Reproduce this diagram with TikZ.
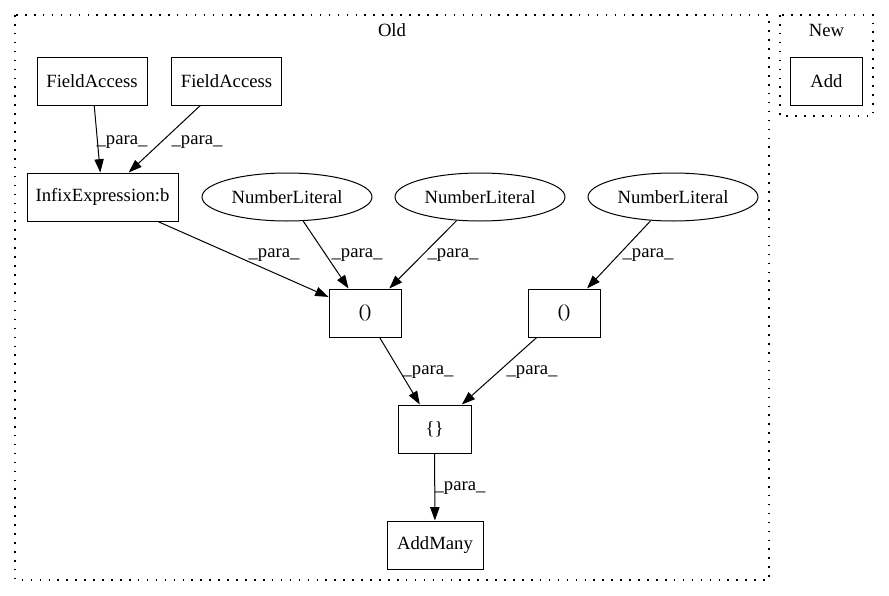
\documentclass[tikz,border=0pt]{standalone}
\usepackage{fontspec}
\setmainfont{Liberation Serif}
\usetikzlibrary{arrows.meta,shapes.geometric}
\begin{document}
\begin{tikzpicture}[x=0.75pt,y=-0.75pt,
  every node/.style={font=\fontsize{14}{16.8}\selectfont, inner sep=0pt},
  box/.style={draw, line width=0.75pt, rectangle, minimum height=36pt},
  oval/.style={draw, line width=0.75pt, ellipse, minimum height=36pt, minimum width=127.5pt},
  cluster/.style={draw, line width=0.9pt, dash pattern=on 1.2pt off 5.5pt},
  edge/.style={draw, line width=0.75pt, -{Triangle[length=10pt,width=7pt]}},
  lbl/.style={font=\fontsize{14}{16.8}\selectfont}
]
\useasboundingbox (0,0) rectangle (889,596);
% clusters
\draw[cluster] (15,15) rectangle (769,580);
\draw[cluster] (780,15) rectangle (873,116);
\node (oldlbl) at (392,30) {Old};
\node (newlbl) at (826.5,30) {New};
% nodes
\node[box, minimum width=54pt] (add) at (826.5,81) {Add};
\node[box, minimum width=82.5pt] (fa1) at (92,81) {FieldAccess};
\node[box, minimum width=82.5pt] (fa2) at (226.5,81) {FieldAccess};
\node[box, minimum width=113.25pt] (infix) at (102.5,197) {InfixExpression:b};
\node[oval] (nl1) at (287,197) {NumberLiteral};
\node[oval] (nl2) at (480,197) {NumberLiteral};
\node[oval] (nl3) at (673,197) {NumberLiteral};
\node[box, minimum width=54pt] (p1) at (365,313) {()};
\node[box, minimum width=54pt] (p2) at (564,313) {()};
\node[box, minimum width=54.75pt] (br) at (434.5,429) {\{\}};
\node[box, minimum width=72pt] (am) at (435,545) {AddMany};
% edges
\draw[edge] (fa1) -- (infix);
\draw[edge] (fa2) -- (infix);
\draw[edge] (infix) -- (p1);
\draw[edge] (nl1) -- (p1);
\draw[edge] (nl2) -- (p1);
\draw[edge] (nl3) -- (p2);
\draw[edge] (p1) -- (br);
\draw[edge] (p2) -- (br);
\draw[edge] (br) -- (am);
% labels
\node[lbl] (l1) at (122,142) {\_para\_};
\node[lbl] (l2) at (197,142) {\_para\_};
\node[lbl] (l3) at (274,255) {\_para\_};
\node[lbl] (l4) at (357,255) {\_para\_};
\node[lbl] (l5) at (453,255) {\_para\_};
\node[lbl] (l6) at (648,255) {\_para\_};
\node[lbl] (l7) at (428,372) {\_para\_};
\node[lbl] (l8) at (532,372) {\_para\_};
\node[lbl] (l9) at (460,488) {\_para\_};
\end{tikzpicture}
\end{document}
